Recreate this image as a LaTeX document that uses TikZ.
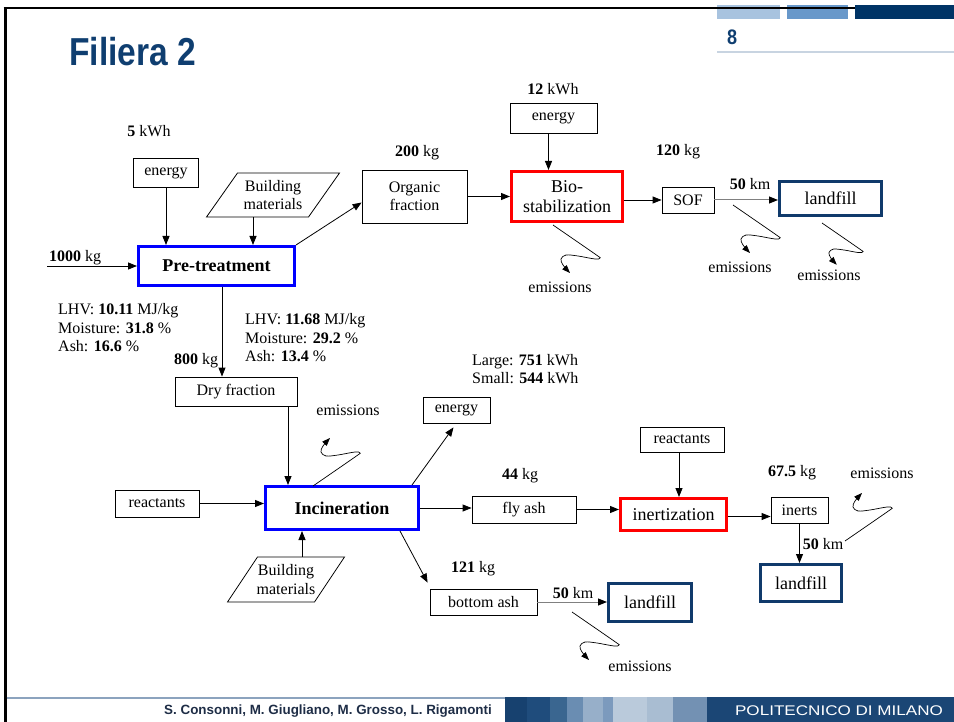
\documentclass[tikz,border=0pt]{standalone}
\usepackage{fontspec}
\setmainfont{Liberation Serif}
\newfontfamily\slidefont{Liberation Sans}
\newfontfamily\narrowfont[FakeStretch=0.86]{Liberation Sans}
\usetikzlibrary{arrows.meta,calc}

\definecolor{polinavy}{RGB}{0,52,102}
\definecolor{polimid}{RGB}{104,152,202}
\definecolor{polilight}{RGB}{168,195,223}
\definecolor{landnavy}{RGB}{16,58,107}
\definecolor{titleblue}{RGB}{15,62,112}
\definecolor{footline}{RGB}{140,163,190}
\definecolor{pagerule}{RGB}{200,212,225}
\definecolor{authorgray}{RGB}{30,45,70}

\tikzset{
  box/.style={draw, line width=0.8pt, inner sep=1pt, align=center},
  thickbox/.style={draw, line width=3pt, inner sep=1pt, align=center, font=\fontsize{18}{20}\selectfont},
  lbl/.style={inner sep=0pt},
  arr/.style={line width=0.8pt, -{Triangle[length=9pt,width=7pt]}},
  grayarr/.style={draw=gray, line width=1pt, -{Triangle[length=9pt,width=7pt,color=black]}},
  emis/.pic={
    \draw[line width=0.7pt, -{Triangle[length=8pt,width=6pt]}]
      plot[smooth, tension=0.55] coordinates {(0,0) (42,29) (47,33) (42,34) (25,31) (13,30) (8,34) (10,40) (17,48)};
  }
}

\begin{document}
\begin{tikzpicture}[x=1pt, y=-1pt, font=\fontsize{16}{18.5}\selectfont]
  \useasboundingbox (0,0) rectangle (954,722);

  % slide frame
  \fill[polilight] (717,5) rectangle (780,19);
  \fill[polimid] (787,5) rectangle (848,19);
  \fill[polinavy] (855,5) rectangle (954,19);
  \draw[line width=2.5pt] (3.5,8) -- (855,8);
  \draw[line width=3pt] (5,8) -- (5,722);
  \draw[pagerule, line width=2pt] (717,52) -- (954,52);
  \node[anchor=base west, inner sep=0pt, text=titleblue, font=\narrowfont\bfseries\fontsize{39}{42}\selectfont] (title) at (69,66) {Filiera 2};
  \node[anchor=base west, inner sep=0pt, text=titleblue, font=\narrowfont\bfseries\fontsize{21}{24}\selectfont] (pnum) at (727,45) {8};

  % footer
  \draw[footline, line width=2pt] (6.5,698) -- (505,698);
  \foreach \xa/\xb/\colr/\colg/\colb in {505/527/23/65/111, 527/550/31/76/124, 550/567/58/102/144,
      567/583/106/141/178, 583/603/151/175/201, 603/613/124/154/189,
      613/647/186/202/219, 647/673/169/189/210, 673/707/115/145/179, 707/954/27/70/117}
  {
    \definecolor{stripe}{RGB}{\colr,\colg,\colb}
    \fill[stripe] (\xa,697) rectangle (\xb,722);
  }
  \node[text=authorgray, font=\slidefont\bfseries\fontsize{13.4}{15}\selectfont] (authors) at (328,711) {S. Consonni, M. Giugliano, M. Grosso, L. Rigamonti};
  \node[text=white, font=\slidefont\fontsize{14}{16}\selectfont] (poli) at (839,711) {\scalebox{1.22}[1]{POLITECNICO DI MILANO}};

  % pre-treatment
  \node[thickbox, draw=blue, minimum width=156pt, minimum height=39pt, font=\bfseries\fontsize{18}{20}\selectfont] (pre) at (216.5,266) {Pre-treatment};
  \node[box, minimum width=65pt, minimum height=29pt] (enPre) at (166,173) {energy};
  \node[lbl] (kwhPre) at (149,131) {\textbf{5} kWh};
  \draw[arr] (enPre) -- (enPre |- pre.north);
  \node[lbl, minimum width=72pt, minimum height=44pt, align=center] (bmA) at (273,195) {Building\\materials};
  \draw[line width=0.8pt] (bmA.center) ++(-35.5,-22) -- ++(102,0) -- ++(-31,44) -- ++(-102,0) -- cycle;
  \draw[arr] ([xshift=-20pt]bmA.south) -- ([xshift=-20pt]bmA.south |- pre.north);
  \node[lbl, anchor=west] (inPre) at (49,258) {\textbf{1000} kg};
  \coordinate (feed) at (47,266);
  \draw[arr] (feed) -- (feed -| pre.west);
  \node[lbl, anchor=west, align=left] (propIn) at (58,328) {LHV: \textbf{10.11} MJ/kg\\Moisture: \textbf{31.8} \%\\Ash: \textbf{16.6} \%};

  % organic line
  \node[box, minimum width=105pt, minimum height=53pt] (org) at (414.5,196.5) {Organic\\fraction};
  \node[lbl] (kgOrg) at (417,153) {\textbf{200} kg};
  \draw[arr] (pre.north east) -- ([yshift=-6pt]org.west);
  \node[thickbox, draw=red, minimum width=111pt, minimum height=50pt] (bio) at (567,196.5) {Bio-\\stabilization};
  \draw[arr] (org) -- (bio);
  \node[box, minimum width=87pt, minimum height=30pt] (enBio) at (553.5,118) {energy};
  \node[lbl] (kwhBio) at (553,89) {\textbf{12} kWh};
  \draw[arr] ([xshift=-5pt]enBio.south) -- ([xshift=-5pt]enBio.south |- bio.north);
  \node[box, minimum width=52pt, minimum height=26pt] (sof) at (688,200) {SOF};
  \node[lbl] (kgSof) at (678,152) {\textbf{120} kg};
  \draw[arr] (bio.east |- sof.west) -- (sof.west);
  \node[thickbox, draw=landnavy, minimum width=102pt, minimum height=34pt] (lfA) at (830.5,198.5) {landfill};
  \node[lbl] (kmA) at (750,184) {\textbf{50} km};
  \draw[grayarr] (sof.east) -- (sof.east -| lfA.west);
  \coordinate (emBioS) at (553,225);
  \pic at (emBioS) {emis};
  \node[lbl] (emBio) at (560,287) {emissions};
  \coordinate (emSofS) at (733,205);
  \pic at (emSofS) {emis};
  \node[lbl] (emSof) at (740,267) {emissions};
  \coordinate (emLfAS) at (822,223);
  \pic[scale=0.87] at (emLfAS) {emis};
  \node[lbl] (emLfA) at (829,275) {emissions};

  % dry fraction line
  \node[lbl, anchor=west, align=left] (propDry) at (245,338) {LHV: \textbf{11.68} MJ/kg\\Moisture: \textbf{29.2} \%\\Ash: \textbf{13.4} \%};
  \node[lbl] (kgDry) at (196,361) {\textbf{800} kg};
  \node[box, minimum width=122pt, minimum height=29pt] (dry) at (236,391.5) {Dry fraction};
  \draw[arr] ([xshift=5.5pt]pre.south) -- ([xshift=5.5pt]pre.south |- dry.north);
  \node[thickbox, draw=blue, minimum width=153pt, minimum height=43pt, font=\bfseries\fontsize{18}{20}\selectfont] (inc) at (342,508) {Incineration};
  \draw[arr] ([xshift=52pt]dry.south) -- ([xshift=52pt]dry.south |- inc.north);
  \node[box, minimum width=84pt, minimum height=27pt] (reacA) at (157,503.5) {reactants};
  \draw[arr] (reacA.east) -- (reacA.east -| inc.west);
  \node[lbl, minimum width=60pt, minimum height=45pt, align=center] (bmB) at (286,579.5) {Building\\materials};
  \draw[line width=0.8pt] (bmB.center) ++(-28.5,-22.5) -- ++(87,0) -- ++(-30,45) -- ++(-87,0) -- cycle;
  \draw[arr] ([xshift=16pt]bmB.north) -- ([xshift=16pt]bmB.north |- inc.south);
  \coordinate (emIncS) at (313,486);
  \pic[yscale=-1] at (emIncS) {emis};
  \node[lbl] (emInc) at (348,410) {emissions};
  \node[box, minimum width=67pt, minimum height=26pt] (enInc) at (456.5,410) {energy};
  \node[lbl, anchor=west, align=left] (kwhInc) at (472,369) {Large: \textbf{751} kWh\\Small: \textbf{544} kWh};
  \draw[arr] ([xshift=-8pt]inc.north east) -- ([xshift=-3pt,yshift=-4pt]enInc.south);

  % fly ash line
  \node[box, minimum width=104pt, minimum height=27pt] (flyash) at (524,509.5) {fly ash};
  \node[lbl] (kgFly) at (520,476) {\textbf{44} kg};
  \draw[arr] (inc.east) -- (inc.east -| flyash.west);
  \node[thickbox, draw=red, minimum width=106pt, minimum height=32pt] (inert) at (673.5,514.5) {inertization};
  \draw[arr] (flyash.east) -- (flyash.east -| inert.west);
  \node[box, minimum width=84pt, minimum height=25pt] (reacB) at (682,439.5) {reactants};
  \draw[arr] ([xshift=-3pt]reacB.south) -- ([xshift=-3pt]reacB.south |- inert.north);
  \node[box, minimum width=57pt, minimum height=26pt] (inerts) at (799.5,510) {inerts};
  \node[lbl] (kgInerts) at (792,473) {\textbf{67.5} kg};
  \draw[arr] ([yshift=-2pt]inert.east) -- ([yshift=-2pt]inert.east -| inerts.west);
  \node[thickbox, draw=landnavy, minimum width=81pt, minimum height=37pt] (lfB) at (801,583) {landfill};
  \draw[arr] (inerts.south) -- (inerts.south |- lfB.north);
  \node[lbl] (kmB) at (823,544) {\textbf{50} km};
  \coordinate (emLfBS) at (845,541);
  \pic[yscale=-1] at (emLfBS) {emis};
  \node[lbl] (emLfB) at (882,473) {emissions};

  % bottom ash line
  \node[box, minimum width=107pt, minimum height=26pt] (bash) at (483.5,602) {bottom ash};
  \node[lbl] (kgBash) at (473,569) {\textbf{121} kg};
  \draw[arr] ([xshift=-20pt]inc.south east) -- ([xshift=-2pt,yshift=6pt]bash.north west);
  \node[thickbox, draw=landnavy, minimum width=83pt, minimum height=38pt] (lfC) at (650,602.5) {landfill};
  \node[lbl] (kmC) at (573,593) {\textbf{50} km};
  \draw[grayarr] (bash.east) -- (bash.east -| lfC.west);
  \coordinate (emLfCS) at (572,612);
  \pic at (emLfCS) {emis};
  \node[lbl] (emLfC) at (640,666) {emissions};
\end{tikzpicture}
\end{document}
